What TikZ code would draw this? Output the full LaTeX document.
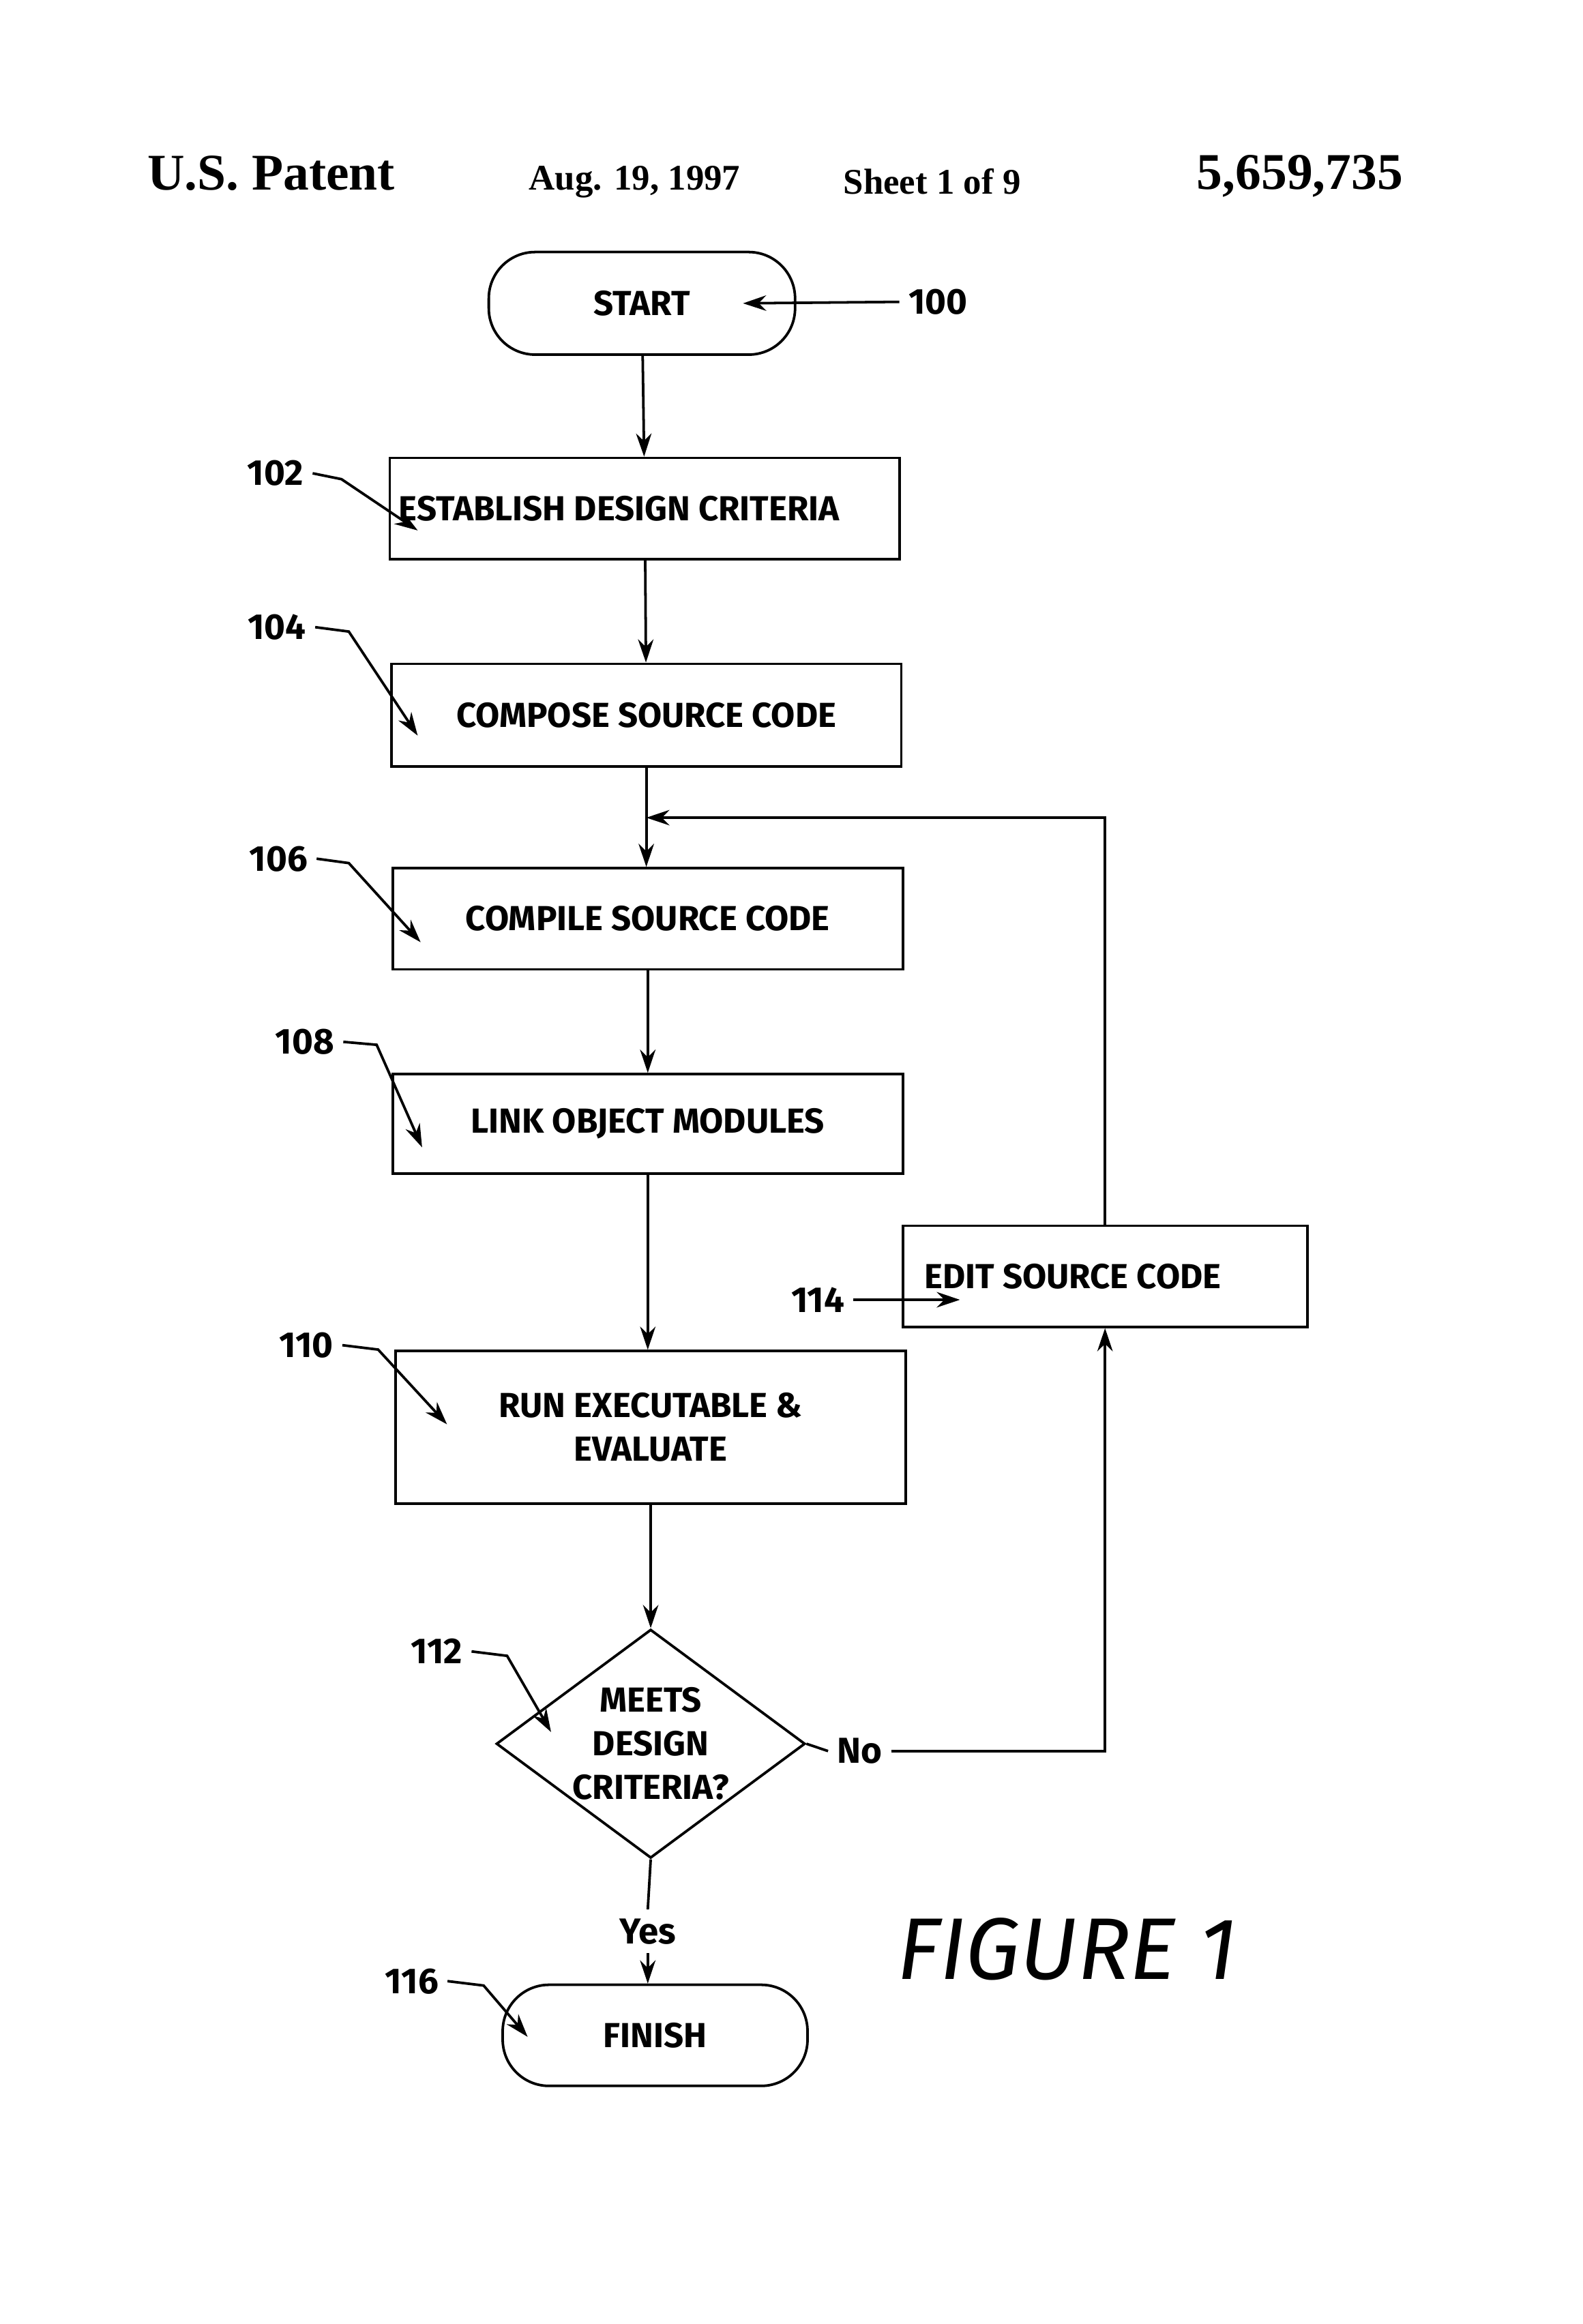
\documentclass[tikz,border=0pt]{standalone}
\usepackage{fontspec}
\setmainfont{Liberation Serif}
\newfontfamily\boxf{Fira Sans}
\usetikzlibrary{shapes.geometric,arrows.meta}
\begin{document}
\begin{tikzpicture}[x=0.02cm,y=-0.02cm,
  box/.style={draw,line width=1pt,inner sep=0pt,align=center,font=\boxf\fontsize{13.5}{17}\selectfont\bfseries},
  lab/.style={font=\boxf\fontsize{14}{17}\selectfont\bfseries},
  ln/.style={line width=1pt},
  ar/.style={line width=1pt,-{Stealth[length=9pt,width=6pt]}},
  hdr/.style={font=\bfseries\fontsize{14}{16}\selectfont}]
\useasboundingbox (0,0) rectangle (1080,1586);
\node[hdr,font=\bfseries\fontsize{20}{24}\selectfont] (h1) at (185,118) {U.S. Patent};
\node[hdr] (h2) at (433,124) {Aug. 19, 1997};
\node[hdr] (h3) at (636,124) {Sheet 1 of 9};
\node[hdr,font=\bfseries\fontsize{20}{24}\selectfont] (h4) at (887,120) {5,659,735};
\node[box,rounded corners=18pt,minimum width=209*0.02cm,minimum height=70*0.02cm] (start) at (438,207) {START};
\node[box,minimum width=348*0.02cm,minimum height=69*0.02cm] (b102) at (440,347) {\hspace*{-20pt}ESTABLISH DESIGN CRITERIA};
\node[box,minimum width=348*0.02cm,minimum height=70*0.02cm] (b104) at (441,488) {COMPOSE SOURCE CODE};
\node[box,minimum width=348*0.02cm,minimum height=69*0.02cm] (b106) at (442,627) {COMPILE SOURCE CODE};
\node[box,minimum width=348*0.02cm,minimum height=68*0.02cm] (b108) at (442,767) {LINK OBJECT MODULES};
\node[box,minimum width=348*0.02cm,minimum height=104*0.02cm] (b110) at (444,974) {RUN EXECUTABLE \&\\ EVALUATE};
\node[box,minimum width=276*0.02cm,minimum height=69*0.02cm] (b114) at (754,871) {\hspace*{-25pt}EDIT SOURCE CODE};
\node[box,diamond,aspect=1.35,minimum width=209*0.02cm,minimum height=155*0.02cm,inner sep=0pt] (d112) at (444,1190) {MEETS\\DESIGN\\CRITERIA?};
\node[box,rounded corners=18pt,minimum width=208*0.02cm,minimum height=69*0.02cm] (fin) at (447,1389) {FINISH};
\node[lab] (yes) at (442,1318) {Yes};
\node[lab,anchor=west] (no) at (565,1195) {No};
\node[font=\boxf\itshape\fontsize{34}{40}\selectfont] (fig) at (728,1330) {FIGURE 1};
% main flow
\draw[ar] (start) -- (b102);
\draw[ar] (b102) -- (b104);
\draw[ar] (b104.south) -- (b106.north -| b104.south);
\draw[ar] (b106) -- (b108);
\draw[ar] (b108.south) -- (b110.north -| b108.south);
\draw[ar] (b110) -- (d112);
\draw[ln] (d112.south) -- (yes.north);
\draw[ar] (yes.south) -- (fin.north -| yes.south);
\coordinate (lp) at (754,558);
\coordinate (mid) at (441,558);
\draw[ar] (b114.north) -- (lp) -- (mid);
\draw[ln] (d112.east) -- (no.west);
\draw[ar] (no.east) -- (no.east -| b114.south) -- (b114.south);
% reference labels
\node[lab] (l100) at (640,206) {100};
\coordinate (a100) at (507,207);
\draw[ar] (l100.west) -- (a100);
\node[lab] (l102) at (188,323) {102};
\coordinate (c102) at (233,327); \coordinate (a102) at (285,362);
\draw[ar] (l102.east) -- (c102) -- (a102);
\node[lab] (l104) at (189,428) {104};
\coordinate (c104) at (238,431); \coordinate (a104) at (285,502);
\draw[ar] (l104.east) -- (c104) -- (a104);
\node[lab] (l106) at (190,586) {106};
\coordinate (c106) at (238,589); \coordinate (a106) at (287,643);
\draw[ar] (l106.east) -- (c106) -- (a106);
\node[lab] (l108) at (208,711) {108};
\coordinate (c108) at (257,713); \coordinate (a108) at (288,783);
\draw[ar] (l108.east) -- (c108) -- (a108);
\node[lab] (l110) at (209,918) {110};
\coordinate (c110) at (258,921); \coordinate (a110) at (305,972);
\draw[ar] (l110.east) -- (c110) -- (a110);
\node[lab] (l114) at (558,887) {114};
\coordinate (a114) at (655,887);
\draw[ar] (l114.east) -- (a114);
\node[lab] (l112) at (298,1127) {112};
\coordinate (c112) at (346,1130); \coordinate (a112) at (376,1182);
\draw[ar] (l112.east) -- (c112) -- (a112);
\node[lab] (l116) at (281,1352) {116};
\coordinate (c116) at (330,1355); \coordinate (a116) at (360,1390);
\draw[ar] (l116.east) -- (c116) -- (a116);
\end{tikzpicture}
\end{document}
